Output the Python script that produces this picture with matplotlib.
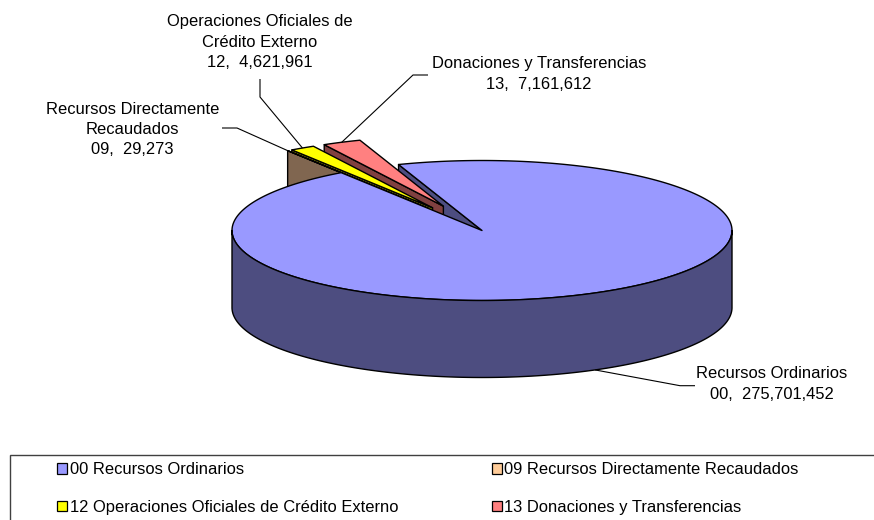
import numpy as np
import matplotlib
matplotlib.use("Agg")
import matplotlib.pyplot as plt
from matplotlib.patches import Polygon, Rectangle, Patch

# ---------------- data ----------------
codes = ["00", "09", "12", "13"]
names = ["Recursos Ordinarios", "Recursos Directamente Recaudados",
         "Operaciones Oficiales de Crédito Externo", "Donaciones y Transferencias"]
label_names = ["Recursos Ordinarios", "Recursos Directamente\nRecaudados",
               "Operaciones Oficiales de\nCrédito Externo", "Donaciones y Transferencias"]
values = [275701452, 29273, 4621961, 7161612]

# ---------------- style ----------------
top_colors = ["#9999FF", "#FFCC99", "#FFFF00", "#FF8080"]
side_colors = ["#4D4D80", "#806650", "#808000", "#804040"]
explode = [0.0, 0.38, 0.38, 0.38]
START = 109.5      # first slice starts here (math degrees), slices run clockwise
TILT = 0.28        # vertical squash of the pie top
DEPTH = 0.308      # thickness of the pie
FONT = "Liberation Sans"
FS = 11.9

W, H = 874, 520
CX, CY, R = 482, 230.5, 250   # pixel centre / radius of pie


def px(xp, yp):
    """image pixel -> data coordinates"""
    return (xp - CX) / R, (CY - yp) / R


def proj(x, y, z=0.0):
    return x, y * TILT + z


fig = plt.figure(figsize=(W / 100, H / 100), dpi=100)
ax = fig.add_axes([0, 0, 1, 1])
ax.set_xlim(-CX / R, (W - CX) / R)
ax.set_ylim((CY - H) / R, CY / R)
ax.axis("off")

vals = np.array(values, dtype=float)
frac = vals / vals.sum()
cum = np.concatenate([[0], np.cumsum(frac)]) * 360.0
# clockwise: slice i spans [lo, hi] in ccw math degrees
his = START - cum[:-1]
los = START - cum[1:]
mids = (his + los) / 2

EC = "black"
LW = 1.0


def u(a):
    r = np.radians(a)
    return np.cos(r), np.sin(r)


def top_poly(i):
    ox, oy = np.array(u(mids[i])) * explode[i]
    angs = np.linspace(los[i], his[i], max(4, int(abs(his[i] - los[i]) * 2)))
    pts = [proj(ox, oy)]
    for a in angs:
        c, s = u(a)
        pts.append(proj(ox + c, oy + s))
    return pts


def hi_wall(i):
    ox, oy = np.array(u(mids[i])) * explode[i]
    c, s = u(his[i])
    return [proj(ox, oy), proj(ox + c, oy + s), proj(ox + c, oy + s, -DEPTH), proj(ox, oy, -DEPTH)]


def outer_wall(i):
    ox, oy = np.array(u(mids[i])) * explode[i]
    a0 = max(los[i], -180.0)
    a1 = min(his[i], 0.0)
    angs = np.linspace(a0, a1, 400)
    top = [proj(ox + np.cos(np.radians(a)), oy + np.sin(np.radians(a))) for a in angs]
    bot = [proj(ox + np.cos(np.radians(a)), oy + np.sin(np.radians(a)), -DEPTH) for a in angs[::-1]]
    return top + bot


def add(pts, fc, z):
    ax.add_patch(Polygon(pts, closed=True, facecolor=fc, edgecolor=EC, lw=LW,
                         joinstyle="round", zorder=z))


# blue visible radial wall
add(hi_wall(0), side_colors[0], 1)
# small exploded slices, right to left
z = 2
for i in [3, 2, 1]:
    add(hi_wall(i), side_colors[i], z)
    add(top_poly(i), top_colors[i], z + 1)
    z += 2
# big slice top and front wall
add(top_poly(0), top_colors[0], 10)
add(outer_wall(0), side_colors[0], 10)

# ---------------- labels ----------------
def fmt(i):
    return f"{codes[i]},  {values[i]:,}"

# anchor points on the slices
anchors = []
for i in range(4):
    ox, oy = np.array(u(mids[i])) * explode[i]
    c, s = u(mids[i])
    if i == 0:
        anchors.append(proj(ox + c, oy + s, -DEPTH))
    else:
        anchors.append(proj(ox + c, oy + s))

# label layout (image pixels): text centre, leader bends
layout = {
    0: dict(text=(772, 384), path=[(680, 385.7), (695, 385.7)]),
    1: dict(text=(132.5, 129.5), path=[(237, 128), (222, 128)]),
    2: dict(text=(260, 42), path=[(260, 97), (260, 79)]),
    3: dict(text=(539, 74), path=[(413, 75), (428, 75)]),
}
for i in range(4):
    L = layout[i]
    xs = [anchors[i][0]] + [px(*p)[0] for p in L["path"]]
    ys = [anchors[i][1]] + [px(*p)[1] for p in L["path"]]
    ax.plot(xs, ys, color="black", lw=0.8, zorder=20, solid_capstyle="butt")
    tx, ty = px(*L["text"])
    ax.text(tx, ty, label_names[i] + "\n" + fmt(i), ha="center", va="center",
            multialignment="center", fontsize=FS, family=FONT, linespacing=1.42,
            zorder=21)

# ---------------- legend ----------------
fig.patches.append(Rectangle((10 / W, -5 / H), (W + 10) / W, (H - 454.5 + 5) / H,
                             transform=fig.transFigure, facecolor="none",
                             edgecolor="#404040", lw=1.0, zorder=0))
order = [0, 2, 1, 3]
handles = [Patch(facecolor=top_colors[i], edgecolor="black", lw=0.9) for i in order]
labels = [f"{codes[i]} {names[i]}" for i in order]
fig.legend(handles, labels, ncol=2, loc="upper left",
           bbox_to_anchor=(57 / W, 1 - 462 / H), bbox_transform=fig.transFigure,
           frameon=False, borderpad=0, borderaxespad=0,
           handlelength=0.62, handleheight=0.62, handletextpad=0.15,
           columnspacing=5.65, labelspacing=1.38,
           prop=dict(family=FONT, size=FS))

fig.savefig("out.png", dpi=100)
